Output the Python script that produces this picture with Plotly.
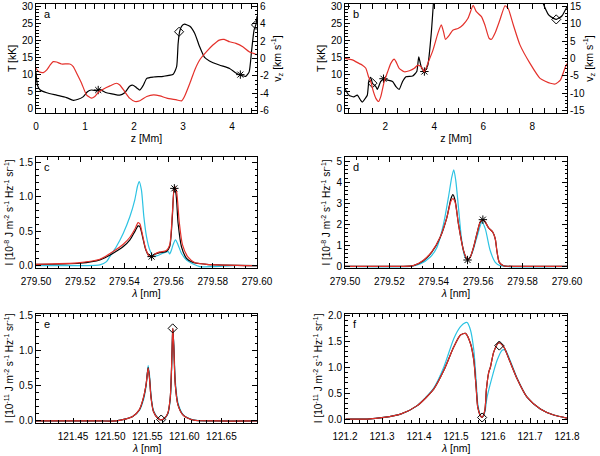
import plotly.graph_objects as go

BLACK = "black"
RED = "#e4302a"
CYAN = "#2cc3e3"

# ---- panel a : temperature and vertical velocity vs height ----
a_z_T = [0, 0.03, 0.08, 0.22, 0.42, 0.62, 0.76, 0.86, 0.96, 1.05, 1.13, 1.24, 1.3, 1.44, 1.58,
         1.71, 1.81, 1.91, 1.98, 2.05, 2.12, 2.19, 2.26, 2.4, 2.6, 2.8, 2.87, 2.9, 2.93, 2.97,
         3.03, 3.14, 3.24, 3.34, 3.44, 3.54, 3.74, 3.95, 4.08, 4.18, 4.28, 4.35, 4.4, 4.45, 4.49, 4.51]
a_T = [10.7, 6.9, 5.6, 4.7, 4.0, 3.3, 2.5, 2.8, 3.5, 5.0, 5.5, 5.3, 5.6, 4.7, 4.3,
       4.0, 4.7, 6.6, 6.9, 6.2, 5.5, 6.9, 8.9, 9.3, 9.5, 10.1, 12.3, 19.0, 22.5, 24.1,
       24.7, 24.1, 22.0, 18.1, 15.0, 14.0, 12.8, 11.8, 10.5, 9.8, 9.5, 10.8, 17.0, 23.0, 24.7, 27.0]
a_z_v = [0, 0.05, 0.15, 0.22, 0.29, 0.35, 0.42, 0.52, 0.69, 0.76, 0.83, 0.93, 1.03, 1.13, 1.2,
         1.27, 1.37, 1.51, 1.64, 1.71, 1.81, 1.91, 2.02, 2.12, 2.26, 2.4, 2.53, 2.67, 2.87, 2.97,
         3.03, 3.14, 3.24, 3.34, 3.48, 3.61, 3.74, 3.84, 3.95, 4.08, 4.22, 4.35, 4.51]
a_v = [-1.12, -1.5, -1.62, -1.31, -0.74, -0.36, -0.4, -0.63, -0.63, -0.93, -1.7, -2.84, -4.17, -4.55, -4.36,
       -3.9, -3.52, -3.14, -2.84, -3.03, -3.79, -4.55, -4.93, -4.85, -4.36, -4.17, -4.29, -4.55, -4.74, -4.86,
       -4.36, -2.84, -1.31, -0.17, 0.78, 1.54, 2.11, 2.19, 1.92, 1.73, 1.35, 0.78, 0.45]
a_star_z = [1.27, 4.17]
a_star_T = [5.5, 10.0]
a_diam_z = [2.92, 4.49]
a_diam_T = [22.5, 24.5]

# ---- panel b ----
b_z_T = [0.36, 0.52, 0.72, 0.86, 1.0, 1.07, 1.18, 1.27, 1.34, 1.41, 1.48, 1.62, 1.68, 1.82, 1.93,
         2.1, 2.3, 2.44, 2.57, 2.71, 2.85, 3.12, 3.29, 3.37, 3.47, 3.6, 3.74, 3.88, 3.97, 4.1,
         5.0, 6.0, 7.0, 8.0, 8.46, 8.67, 8.87, 8.98, 9.21, 9.42]
b_T = [5.9, 4.0, 3.5, 4.0, 2.5, 2.0, 3.0, 4.0, 8.4, 9.2, 7.5, 6.5, 5.7, 8.0, 8.6,
       8.4, 8.0, 6.5, 5.7, 8.0, 9.4, 9.6, 10.9, 15.2, 12.3, 10.9, 12.8, 22.0, 31.0, 45.0,
       70.0, 80.0, 75.0, 50.0, 30.6, 27.4, 26.4, 26.1, 27.1, 29.8]
b_z_v = [0.36, 0.66, 0.93, 1.07, 1.21, 1.32, 1.41, 1.52, 1.62, 1.73, 1.82, 1.96, 2.1, 2.23, 2.37,
         2.44, 2.57, 2.78, 2.99, 3.19, 3.33, 3.47, 3.6, 3.74, 3.95, 4.15, 4.29, 4.38, 4.46, 4.63,
         4.76, 4.97, 5.17, 5.38, 5.59, 5.72, 5.93, 6.07, 6.24, 6.34, 6.48, 6.68, 6.89, 7.02, 7.23,
         7.5, 7.91, 8.32, 8.74, 8.94, 9.15, 9.36, 9.42]
b_v = [0.05, -0.4, -1.4, -1.9, -2.8, -5.2, -6.6, -9.5, -11.4, -12.3, -10.9, -6.6, -3.8, -1.4, -0.2,
       -0.9, -2.8, -3.8, -3.5, -2.8, -1.9, -2.4, -3.8, -1.4, 2.4, 7.2, 9.6, 7.7, 5.5, 6.8,
       8.1, 8.6, 9.6, 11.5, 15.2, 13.4, 12.0, 9.6, 5.8, 5.5, 7.2, 11.0, 15.1, 14.3, 9.6,
       3.9, -1.4, -5.7, -7.1, -7.3, -6.2, -2.3, -1.5]
b_star_z = [1.93, 3.6]
b_star_T = [8.8, 10.9]
b_diam_z = [1.48, 8.98]
b_diam_T = [7.5, 26.1]

# ---- panel c ----
c_lam_cy = [279.5, 279.5214, 279.5289, 279.5319, 279.5334, 279.5364, 279.5395, 279.5425, 279.5447, 279.5459,
            279.5467, 279.5477, 279.5488, 279.55, 279.5515, 279.553, 279.5545, 279.5575, 279.5598, 279.5605,
            279.5613, 279.562, 279.5631, 279.5643, 279.5658, 279.5681, 279.5711, 279.5741, 279.5801, 279.5892, 279.6]
c_I_cy = [0.0, 0.0, 0.01, 0.058, 0.13, 0.276, 0.469, 0.711, 0.953, 1.147,
          1.219, 1.098, 0.711, 0.421, 0.227, 0.14, 0.14, 0.179, 0.203, 0.169,
          0.227, 0.30, 0.373, 0.30, 0.179, 0.082, 0.024, -0.015, -0.015, 0.0, 0.0]
c_lam_bk = [279.5, 279.5199, 279.5289, 279.5349, 279.5395, 279.5425, 279.5447, 279.5462, 279.547, 279.5482,
            279.5497, 279.5512, 279.5523, 279.5538, 279.556, 279.559, 279.5605, 279.5617, 279.5625, 279.5633,
            279.5643, 279.5658, 279.5681, 279.5711, 279.5771, 279.6]
c_I_bk = [0.019, 0.034, 0.082, 0.179, 0.276, 0.373, 0.493, 0.576, 0.566, 0.421,
          0.227, 0.14, 0.131, 0.164, 0.189, 0.203, 0.276, 0.711, 1.122, 1.05,
          0.614, 0.276, 0.106, 0.044, 0.019, 0.0]
c_lam_rd = [279.5, 279.5199, 279.5289, 279.5349, 279.5395, 279.5425, 279.5447, 279.5462, 279.547, 279.5482,
            279.5497, 279.5512, 279.5523, 279.5538, 279.556, 279.559, 279.5605, 279.5617, 279.5627, 279.5636,
            279.5648, 279.5663, 279.5688, 279.5718, 279.5771, 279.6]
c_I_rd = [0.019, 0.044, 0.092, 0.203, 0.31, 0.411, 0.527, 0.624, 0.605, 0.445,
          0.237, 0.14, 0.131, 0.169, 0.198, 0.218, 0.30, 0.76, 1.147, 1.074,
          0.639, 0.30, 0.121, 0.044, 0.019, 0.0]
c_star_lam = [279.5523, 279.5626]
c_star_I = [0.13, 1.12]

# ---- panel d ----
d_lam_cy = [279.5, 279.5293, 279.5338, 279.5383, 279.5414, 279.5444, 279.5466, 279.5481, 279.549, 279.5499,
            279.5511, 279.5526, 279.5541, 279.5556, 279.5571, 279.5594, 279.5617, 279.5632, 279.5654, 279.5677,
            279.5699, 279.6]
d_I_cy = [0.0, 0.0, 0.11, 0.43, 0.90, 2.02, 3.29, 4.24, 4.59, 4.08,
          2.81, 1.22, 0.43, 0.35, 0.59, 1.38, 2.10, 1.78, 0.75, 0.19,
          0.03, 0.0]
d_lam_bk = [279.5, 279.5248, 279.5308, 279.5353, 279.5391, 279.5429, 279.5459, 279.5477, 279.5486, 279.5496,
            279.5511, 279.5534, 279.5552, 279.5564, 279.5579, 279.5594, 279.5609, 279.5621, 279.5632, 279.5647,
            279.5666, 279.5677, 279.5684, 279.5695, 279.5714, 279.5774, 279.6]
d_I_bk = [0.0, 0.0, 0.03, 0.27, 0.67, 1.38, 2.33, 3.21, 3.41, 3.13,
          2.02, 0.75, 0.30, 0.43, 0.90, 1.54, 2.10, 2.22, 2.10, 1.83,
          1.62, 1.30, 0.75, 0.19, 0.03, 0.0, 0.0]
d_I_rd = [0.0, 0.0, 0.03, 0.29, 0.70, 1.40, 2.33, 3.10, 3.22, 3.05,
          2.02, 0.75, 0.30, 0.43, 0.90, 1.54, 2.10, 2.22, 2.10, 1.83,
          1.62, 1.30, 0.75, 0.19, 0.03, 0.0, 0.0]
d_star_lam = [279.5552, 279.5621]
d_star_I = [0.30, 2.22]

# ---- panel e ----
e_lam = [121.3985, 121.4852, 121.5078, 121.5214, 121.5304, 121.5394, 121.5449, 121.5485, 121.5512, 121.553,
         121.5552, 121.5584, 121.5643, 121.5688, 121.5733, 121.5778, 121.581, 121.5828, 121.5841, 121.5846,
         121.586, 121.5878, 121.5914, 121.5981, 121.6117, 121.6433, 121.6984]
e_I_bk = [0.0, 0.0, 0.0, 0.029, 0.063, 0.159, 0.328, 0.521, 0.762, 0.617,
          0.328, 0.135, 0.039, 0.014, 0.039, 0.111, 0.328, 0.762, 1.245, 1.317,
          1.003, 0.521, 0.232, 0.087, 0.014, 0.0, 0.0]
e_I_cy = [0.0, 0.0, 0.0, 0.029, 0.063, 0.150, 0.300, 0.500, 0.790, 0.660,
          0.360, 0.150, 0.045, 0.014, 0.035, 0.100, 0.300, 0.720, 1.220, 1.300,
          1.060, 0.580, 0.260, 0.095, 0.016, 0.0, 0.0]
e_I_rd = [0.0, 0.0, 0.0, 0.029, 0.065, 0.162, 0.332, 0.525, 0.755, 0.610,
          0.325, 0.135, 0.039, 0.014, 0.039, 0.111, 0.330, 0.765, 1.250, 1.320,
          1.000, 0.520, 0.230, 0.087, 0.014, 0.0, 0.0]
e_diam_lam = [121.5688, 121.5843]
e_diam_I = [0.02, 1.32]

# ---- panel f ----
f_lam = [121.2018, 121.2603, 121.3052, 121.3502, 121.3952, 121.4402, 121.4672, 121.4942, 121.5121, 121.5256,
         121.5391, 121.5481, 121.5544, 121.5589, 121.5661, 121.5706, 121.5778, 121.5823, 121.5886, 121.5931,
         121.6021, 121.6156, 121.6291, 121.6426, 121.6651, 121.692, 121.728, 121.764, 121.8]
f_I_bk = [0.0, 0.0, 0.032, 0.097, 0.26, 0.584, 0.942, 1.396, 1.623, 1.656,
          1.461, 1.136, 0.617, 0.227, 0.065, 0.032, 0.162, 0.584, 0.909, 1.006,
          1.299, 1.474, 1.396, 1.169, 0.779, 0.422, 0.195, 0.078, 0.019]
f_lam_cy = [121.2018, 121.2603, 121.3052, 121.3502, 121.3952, 121.4402, 121.4672, 121.4942, 121.5121, 121.5256,
            121.5301, 121.5391, 121.5481, 121.5544, 121.5589, 121.5661, 121.5706, 121.5778, 121.584, 121.5976,
            121.6111, 121.6246, 121.6336, 121.6426, 121.6651, 121.692, 121.728, 121.764, 121.8]
f_I_cy = [0.0, 0.0, 0.032, 0.097, 0.26, 0.604, 1.006, 1.558, 1.786, 1.864,
          1.864, 1.721, 1.331, 0.747, 0.292, 0.065, 0.032, 0.13, 0.422, 0.812,
          1.136, 1.331, 1.331, 1.201, 0.792, 0.422, 0.195, 0.078, 0.019]
f_diam_lam = [121.5706, 121.617]
f_diam_I = [0.03, 1.42]

FONT = "Liberation Sans, Arial, sans-serif"

fig = go.Figure()


def line(x, y, color, xa, ya, smooth=0.7):
    fig.add_trace(go.Scatter(x=x, y=y, mode="lines", xaxis=xa, yaxis=ya, showlegend=False,
                             line=dict(color=color, width=1.2, shape="spline", smoothing=smooth),
                             hoverinfo="skip"))


def marks(x, y, symbol, xa, ya, size=7):
    fig.add_trace(go.Scatter(x=x, y=y, mode="markers", xaxis=xa, yaxis=ya, showlegend=False,
                             marker=dict(symbol=symbol, size=size, color=BLACK,
                                         line=dict(color=BLACK, width=1))))


# a
line(a_z_v, a_v, RED, "x", "y7", 0.5)
line(a_z_T, a_T, BLACK, "x", "y", 0.5)
marks(a_star_z, a_star_T, "asterisk-open", "x", "y")
marks(a_diam_z, a_diam_T, "diamond-open", "x", "y")
# b
line(b_z_v, b_v, RED, "x2", "y8", 0.5)
line(b_z_T, b_T, BLACK, "x2", "y2", 0.5)
marks(b_star_z, b_star_T, "asterisk-open", "x2", "y2")
marks(b_diam_z, b_diam_T, "diamond-open", "x2", "y2")
# c
line(c_lam_cy, c_I_cy, CYAN, "x3", "y3")
line(c_lam_bk, c_I_bk, BLACK, "x3", "y3")
line(c_lam_rd, c_I_rd, RED, "x3", "y3")
marks(c_star_lam, c_star_I, "asterisk-open", "x3", "y3")
# d
line(d_lam_cy, d_I_cy, CYAN, "x4", "y4")
line(d_lam_bk, d_I_bk, BLACK, "x4", "y4")
line(d_lam_bk, d_I_rd, RED, "x4", "y4")
marks(d_star_lam, d_star_I, "asterisk-open", "x4", "y4")
# e
line(e_lam, e_I_cy, CYAN, "x5", "y5")
line(e_lam, e_I_bk, BLACK, "x5", "y5")
line(e_lam, e_I_rd, RED, "x5", "y5")
marks(e_diam_lam, e_diam_I, "diamond-open", "x5", "y5")
# f
line(f_lam_cy, f_I_cy, CYAN, "x6", "y6")
line(f_lam, f_I_bk, BLACK, "x6", "y6")
line(f_lam, f_I_bk, RED, "x6", "y6")
marks(f_diam_lam, f_diam_I, "diamond-open", "x6", "y6")

W, H = 600, 456
colL = [36 / W, 257 / W]
colR = [345 / W, 567 / W]
row1 = [1 - 113 / H, 1 - 4 / H]
row2 = [1 - 268 / H, 1 - 157 / H]
row3 = [1 - 422.7 / H, 1 - 314 / H]


def axis(domain, rng, tickvals, ticktext, minor, anchor, title="", mirror="allticks", side=None,
         tsize=10.5, standoff=3, overlaying=None, labelpad=0):
    d = dict(domain=domain, range=rng, anchor=anchor, tickmode="array", tickvals=tickvals,
             ticktext=ticktext, ticks="inside", ticklen=5, tickwidth=1, tickcolor="black",
             mirror=mirror, showline=True, linecolor="black", linewidth=1, automargin=False,
             tickangle=0, showgrid=False, zeroline=False, tickfont=dict(size=10, color="black"),
             ticklabelstandoff=labelpad,
             minor=dict(ticks="inside", ticklen=2.5, dtick=minor, tickcolor="black"),
             title=dict(text=title, font=dict(size=tsize, color="black"), standoff=standoff))
    if side:
        d["side"] = side
    if overlaying:
        d["overlaying"] = overlaying
    return d


lam_title = "<i>λ</i> [nm]"
I8 = "I [10<sup>-8</sup> J m<sup>-2</sup> s<sup>-1</sup> Hz<sup>-1</sup> sr<sup>-1</sup>]"
I11 = "I [10<sup>-11</sup> J m<sup>-2</sup> s<sup>-1</sup> Hz<sup>-1</sup> sr<sup>-1</sup>]"
vz = "v<sub>z</sub> [km s<sup>-1</sup>]"

x_a = [0, 1, 2, 3, 4]
x_b = [2, 4, 6, 8]
x_cd = [279.50, 279.52, 279.54, 279.56, 279.58, 279.60]
x_e = [121.45, 121.50, 121.55, 121.60, 121.65]
x_f = [121.2, 121.3, 121.4, 121.5, 121.6, 121.7, 121.8]
y_T = [0, 5, 10, 15, 20, 25, 30]
y_va = [-6, -4, -2, 0, 2, 4, 6]
y_vb = [-15, -10, -5, 0, 5, 10, 15]
y_c = [0.0, 0.5, 1.0, 1.5]
y_d = [0, 1, 2, 3, 4, 5]
y_f = [0.0, 0.5, 1.0, 1.5, 2.0]

fig.update_layout(
    width=W, height=H, margin=dict(l=0, r=0, t=0, b=0),
    paper_bgcolor="white", plot_bgcolor="white",
    font=dict(family=FONT, color="black"),
    xaxis=axis(colL, [0, 4.51], x_a, [str(v) for v in x_a], 0.2, "y", "z [Mm]", labelpad=4),
    yaxis=axis(row1, [-1.2, 30.6], y_T, [str(v) for v in y_T], 1, "x", "T [kK]", mirror=False),
    yaxis7=axis(row1, [-6.25, 6.25], y_va, [str(v) for v in y_va], 0.5, "x", vz, mirror=False,
                side="right", overlaying="y"),
    xaxis2=axis(colR, [0.36, 9.42], x_b, [str(v) for v in x_b], 0.5, "y2", "z [Mm]", labelpad=4),
    yaxis2=axis(row1, [-1.2, 30.6], y_T, [str(v) for v in y_T], 1, "x2", "T [kK]", mirror=False),
    yaxis8=axis(row1, [-15.6, 15.6], y_vb, [str(v) for v in y_vb], 1, "x2", vz, mirror=False,
                side="right", overlaying="y2", standoff=1),
    xaxis3=axis(colL, [279.50, 279.60], x_cd, ["%.2f" % v for v in x_cd], 0.005, "y3", lam_title,
                labelpad=4),
    yaxis3=axis(row2, [-0.035, 1.575], y_c, ["%.1f" % v for v in y_c], 0.1, "x3", I8, tsize=10),
    xaxis4=axis(colR, [279.50, 279.60], x_cd, ["%.2f" % v for v in x_cd], 0.005, "y4", lam_title,
                labelpad=4),
    yaxis4=axis(row2, [-0.08, 5.2], y_d, [str(v) for v in y_d], 0.2, "x4", I8, tsize=10),
    xaxis5=axis(colL, [121.40, 121.698], x_e, ["%.2f" % v for v in x_e], 0.01, "y5", labelpad=4),
    yaxis5=axis(row3, [-0.025, 1.525], y_c, ["%.1f" % v for v in y_c], 0.1, "x5", I11, tsize=10),
    xaxis6=axis(colR, [121.2, 121.8], x_f, ["%.1f" % v for v in x_f], 0.02, "y6", labelpad=4),
    yaxis6=axis(row3, [-0.07, 2.03], y_f, ["%.1f" % v for v in y_f], 0.1, "x6", I11, tsize=10),
)

# bottom-row x titles sit close to the page edge, so place them as annotations
for ref in ["x5", "x6"]:
    fig.add_annotation(text=lam_title, xref=ref + " domain", yref="paper", x=0.5, y=0,
                       xanchor="center", yanchor="bottom", showarrow=False,
                       font=dict(size=10.5, color="black"))

for ref, letter in [("x", "a"), ("x2", "b"), ("x3", "c"), ("x4", "d"), ("x5", "e"), ("x6", "f")]:
    yref = "y" if ref == "x" else "y" + ref[1:]
    fig.add_annotation(text=letter, xref=ref + " domain", yref=yref + " domain", x=0.025, y=0.98,
                       xanchor="left", yanchor="top", showarrow=False,
                       font=dict(size=11, color="black"))

# the page body keeps the browser's default 8px margin; drop it so the figure sits at 0,0
fig.write_html("out.html", config={"displayModeBar": False},
               post_script="document.body.style.margin='0px';")
